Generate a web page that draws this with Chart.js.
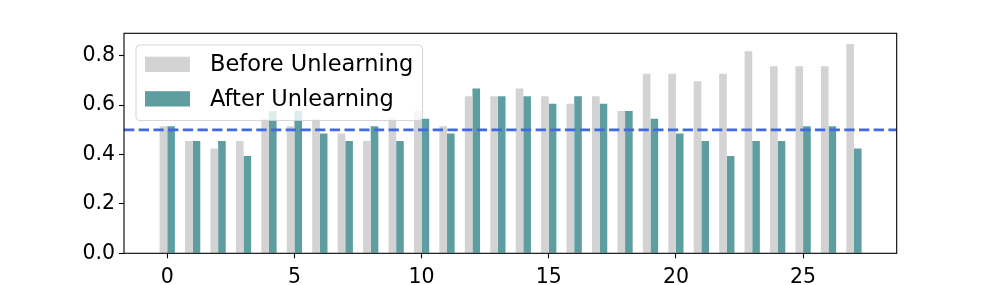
<!DOCTYPE html>
<html>
<head>
<meta charset="utf-8">
<script src="https://cdn.jsdelivr.net/npm/chart.js@4/dist/chart.umd.min.js"></script>
<style>
  html, body { margin: 0; padding: 0; background: #ffffff; }
  canvas { display: block; }
</style>
</head>
<body>
<canvas id="c" width="997" height="285"></canvas>
<script>
// ---- data ----
const categories = [0,1,2,3,4,5,6,7,8,9,10,11,12,13,14,15,16,17,18,19,20,21,22,23,24,25,26,27];
const beforeUnlearning = [0.515,0.455,0.424,0.455,0.545,0.515,0.545,0.485,0.455,0.545,0.576,0.515,0.636,0.636,0.667,0.636,0.606,0.636,0.576,0.727,0.727,0.697,0.727,0.818,0.758,0.758,0.758,0.848];
const afterUnlearning  = [0.515,0.455,0.455,0.394,0.576,0.576,0.485,0.455,0.515,0.455,0.545,0.485,0.667,0.636,0.636,0.606,0.636,0.606,0.576,0.545,0.485,0.455,0.394,0.455,0.455,0.515,0.515,0.424];
const thresholdValue = 0.5;
const seriesLabels = ['Before Unlearning', 'After Unlearning'];
const xTickStep = 5;
const yTickStep = 0.2;

const X_MIN = -1.7, X_MAX = 28.68, Y_MIN = 0, Y_MAX = 0.891;
const GRAY = '#d3d3d3', TEAL = '#5f9ea0', BLUE = '#4169e1';
const FONT = 'DejaVu Sans';

const framePlugin = {
  id: 'frame',
  afterDraw(chart) {
    const ctx = chart.ctx, a = chart.chartArea;
    ctx.save();
    ctx.strokeStyle = '#000';
    ctx.lineWidth = 1.1;
    ctx.strokeRect(a.left, a.top, a.right - a.left, a.bottom - a.top);
    ctx.restore();
  }
};

const legendPlugin = {
  id: 'insideLegend',
  afterDraw(chart) {
    const ctx = chart.ctx, a = chart.chartArea;
    const x0 = a.left + 12, y0 = a.top + 11.7;
    const w = 286.5, h = 75.5, r = 4;
    ctx.save();
    ctx.beginPath();
    ctx.roundRect(x0, y0, w, h, r);
    ctx.fillStyle = 'rgba(255,255,255,0.8)';
    ctx.fill();
    ctx.strokeStyle = 'rgba(204,204,204,0.8)';
    ctx.lineWidth = 1.1;
    ctx.stroke();
    const ds = chart.data.datasets.filter(d => d.type !== 'line');
    ctx.font = '22.5px "' + FONT + '"';
    ctx.textBaseline = 'middle';
    ctx.fillStyle = '#000';
    ds.forEach((d, i) => {
      const py = y0 + 11.7 + i * 34.5;
      ctx.fillStyle = d.backgroundColor;
      ctx.fillRect(x0 + 9, py, 45, 15.3);
      ctx.fillStyle = '#000';
      ctx.fillText(d.label, x0 + 74, py + 8.5);
    });
    ctx.restore();
  }
};

new Chart(document.getElementById('c'), {
  data: {
    datasets: [
      {
        type: 'bar',
        label: seriesLabels[0],
        data: categories.map((c, i) => ({ x: c, y: beforeUnlearning[i] })),
        backgroundColor: GRAY,
        borderWidth: 0,
        categoryPercentage: 0.6,
        barPercentage: 1.0,
        order: 0
      },
      {
        type: 'bar',
        label: seriesLabels[1],
        data: categories.map((c, i) => ({ x: c, y: afterUnlearning[i] })),
        backgroundColor: TEAL,
        borderWidth: 0,
        categoryPercentage: 0.6,
        barPercentage: 1.0,
        order: 0
      },
      {
        type: 'line',
        label: 'threshold',
        data: [{ x: X_MIN, y: thresholdValue }, { x: X_MAX, y: thresholdValue }],
        borderColor: BLUE,
        borderWidth: 2.8,
        borderDash: [10.3, 4.4],
        pointRadius: 0,
        fill: false,
        order: -1
      }
    ]
  },
  options: {
    responsive: false,
    devicePixelRatio: 1,
    animation: false,
    layout: { padding: { top: 33.3, right: 100.3, left: 0, bottom: 0 } },
    plugins: { legend: { display: false }, tooltip: { enabled: false } },
    scales: {
      x: {
        type: 'linear',
        min: X_MIN, max: X_MAX,
        offset: false,
        grid: { offset: false, drawOnChartArea: false, drawTicks: true, tickLength: 5, tickColor: '#000', tickWidth: 1.1 },
        border: { display: false },
        ticks: { stepSize: xTickStep, includeBounds: false, color: '#000', font: { family: FONT, size: 20.5 }, padding: 7, maxRotation: 0 },
        afterFit(s) { s.height = 31.7; }
      },
      y: {
        type: 'linear',
        min: Y_MIN, max: Y_MAX,
        grid: { drawOnChartArea: false, drawTicks: true, tickLength: 5, tickColor: '#000', tickWidth: 1.1 },
        border: { display: false },
        ticks: { stepSize: yTickStep, includeBounds: false, color: '#000', font: { family: FONT, size: 20.5 }, padding: 4,
                 callback: v => Number(v).toFixed(1) },
        afterFit(s) { s.width = 124; }
      }
    }
  },
  plugins: [framePlugin, legendPlugin]
});
</script>
</body>
</html>
